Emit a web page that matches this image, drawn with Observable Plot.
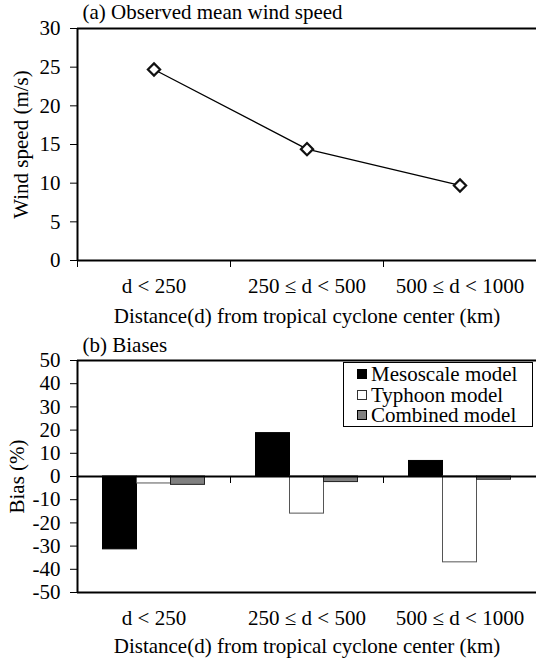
<!DOCTYPE html>
<html>
<head>
<meta charset="utf-8">
<script src="https://cdn.jsdelivr.net/npm/d3@7"></script>
<script src="https://cdn.jsdelivr.net/npm/@observablehq/plot@0.6"></script>
<style>
  body { margin: 0; background: #fff; }
  #wrap { position: relative; width: 536px; height: 663px; overflow: hidden; background: #fff;
          font-family: "Liberation Serif", "Times New Roman", serif; color: #000; }
  #wrap svg { position: absolute; left: 0; display: block; }
  #legend { position: absolute; left: 343px; top: 362px; width: 190px; height: 65px;
            border: 1px solid #000; background: #fff; box-sizing: border-box;
            font-size: 21px; line-height: 20px; padding-top: 1px; }
  #legend .row { display: flex; align-items: center; height: 20.5px; white-space: nowrap; overflow: visible; }
  #legend .sw { width: 10px; height: 10px; margin-left: 13px; margin-right: 4px; box-sizing: border-box; border: 1px solid #000; flex: none; }
  #legend .lbl { display: block; height: 20px; line-height: 20px; overflow: visible; }
</style>
</head>
<body>
<div id="wrap"></div>
<script>
// ---------- data ----------
const categories = ["d < 250", "250 \u2264 d < 500", "500 \u2264 d < 1000"];
const windSpeed = [24.7, 14.4, 9.7];
const windTicks = [0, 5, 10, 15, 20, 25, 30];

const seriesNames = ["Mesoscale model", "Typhoon model", "Combined model"];
const mesoscaleBias = [-31.4, 18.7, 6.7];
const typhoonBias = [-3.0, -16.0, -37.0];
const combinedBias = [-3.6, -2.4, -1.4];
const biasTicks = [-50, -40, -30, -20, -10, 0, 10, 20, 30, 40, 50];

const seriesFills = ["#000000", "#ffffff", "#808080"];
const seriesStrokes = ["#000000", "#555555", "#222222"];

const titleA = "(a) Observed mean wind speed";
const titleB = "(b) Biases";
const yTitleA = "Wind speed (m/s)";
const yTitleB = "Bias (%)";
const xTitle = "Distance(d) from tropical cyclone center (km)";

// ---------- helpers ----------
const wrap = document.getElementById("wrap");
const fontStyle = { fontFamily: "'Liberation Serif', 'Times New Roman', serif", fontSize: "21px", color: "#000", background: "transparent", overflow: "visible" };
const idx = d3.range(categories.length);
const bounds = d3.range(categories.length + 1);

// ---------- panel (a) ----------
const plotA = Plot.plot({
  width: 536, height: 320,
  marginLeft: 77, marginRight: 0, marginTop: 28, marginBottom: 60,
  style: fontStyle,
  x: { type: "linear", domain: [0, categories.length] },
  y: { domain: [0, 30] },
  marks: [
    Plot.axisY({ ticks: windTicks, tickSize: 7, tickPadding: 10, label: null, tickFormat: d => String(d) }),
    Plot.axisX({ ticks: bounds, tickSize: 7, tickFormat: () => "", label: null }),
    Plot.ruleY([30], { stroke: "#000", strokeWidth: 2 }),
    Plot.ruleY([0], { stroke: "#000", strokeWidth: 2 }),
    Plot.ruleX([0], { stroke: "#000", strokeWidth: 2 }),
    Plot.line(idx, { x: i => i + 0.5, y: i => windSpeed[i], stroke: "#000", strokeWidth: 1.3 }),
    Plot.dot(idx, { x: i => i + 0.5, y: i => windSpeed[i], symbol: "diamond2", r: 5.5, fill: "#fff", stroke: "#111", strokeWidth: 2.2 }),
    Plot.text(categories, { x: (d, i) => i + 0.5, frameAnchor: "bottom", dy: 25.6, lineAnchor: "middle" }),
    Plot.text([xTitle], { frameAnchor: "bottom", dy: 55.3, lineAnchor: "middle", textAnchor: "middle" }),
    Plot.text([yTitleA], { frameAnchor: "left", dx: -56, rotate: -90, lineAnchor: "middle", textAnchor: "middle" }),
    Plot.text([titleA], { frameAnchor: "top-left", dx: 5, dy: -16.7, textAnchor: "start", lineAnchor: "middle" })
  ]
});
plotA.style.top = "0px";
wrap.appendChild(plotA);

// ---------- panel (b) ----------
const seriesValues = [mesoscaleBias, typhoonBias, combinedBias];
const inner = d3.scaleBand(seriesNames, [1 / 6, 5 / 6]);
const barMarks = seriesNames.map((s, si) =>
  Plot.rectY(idx, {
    x1: i => i + inner(s),
    x2: i => i + inner(s) + inner.bandwidth(),
    y1: 0,
    y2: i => seriesValues[si][i],
    fill: seriesFills[si],
    stroke: seriesStrokes[si],
    strokeWidth: 1
  })
);

const plotB = Plot.plot({
  width: 536, height: 343,
  marginLeft: 77, marginRight: 0, marginTop: 40, marginBottom: 71,
  style: fontStyle,
  x: { type: "linear", domain: [0, categories.length] },
  y: { domain: [-50, 50] },
  marks: [
    Plot.axisY({ ticks: biasTicks, tickSize: 7, tickPadding: 10, label: null, tickFormat: d => String(d) }),
    ...barMarks,
    Plot.axisX({ y: 0, ticks: bounds, tickSize: 7, tickFormat: () => "", label: null }),
    Plot.ruleY([50], { stroke: "#000", strokeWidth: 2 }),
    Plot.ruleY([-50], { stroke: "#000", strokeWidth: 2 }),
    Plot.ruleY([0], { stroke: "#000", strokeWidth: 2 }),
    Plot.ruleX([0], { stroke: "#000", strokeWidth: 2 }),
    Plot.text(categories, { x: (d, i) => i + 0.5, frameAnchor: "bottom", dy: 25.6, lineAnchor: "middle" }),
    Plot.text([xTitle], { frameAnchor: "bottom", dy: 53.3, lineAnchor: "middle", textAnchor: "middle" }),
    Plot.text([yTitleB], { frameAnchor: "left", dx: -60, rotate: -90, lineAnchor: "middle", textAnchor: "middle" }),
    Plot.text([titleB], { frameAnchor: "top-left", dx: 5, dy: -15.2, textAnchor: "start", lineAnchor: "middle" })
  ]
});
plotB.style.top = "320px";
wrap.appendChild(plotB);

// ---------- legend ----------
const legend = document.createElement("div");
legend.id = "legend";
seriesNames.forEach((s, si) => {
  const row = document.createElement("div");
  row.className = "row";
  const sw = document.createElement("span");
  sw.className = "sw";
  sw.style.background = seriesFills[si];
  sw.style.borderColor = si === 1 ? "#333" : "#000";
  const t = document.createElement("span");
  t.className = "lbl";
  t.textContent = s;
  row.appendChild(sw);
  row.appendChild(t);
  legend.appendChild(row);
});
wrap.appendChild(legend);
</script>
</body>
</html>
